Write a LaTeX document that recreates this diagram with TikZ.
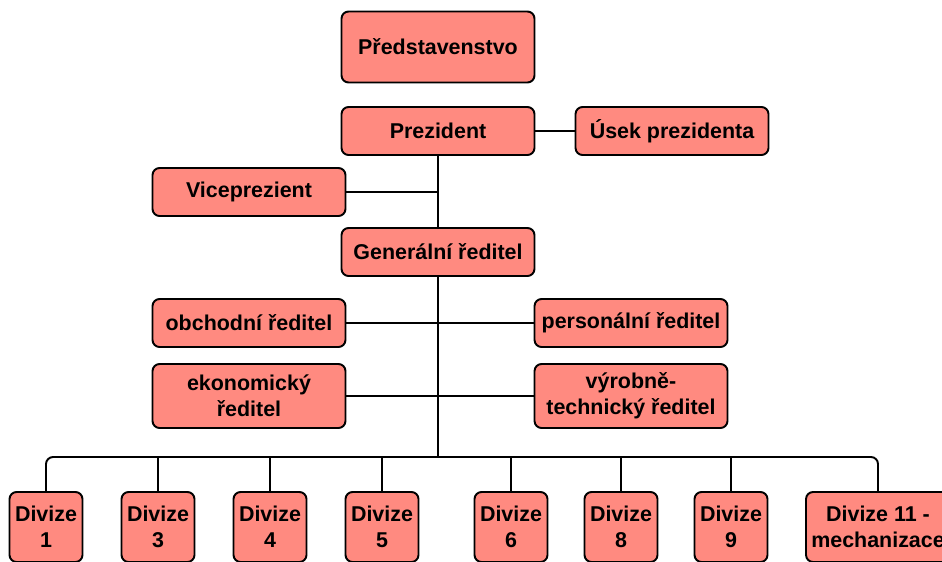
\documentclass[tikz,border=0pt]{standalone}
\usepackage{fontspec}
\setmainfont{Liberation Sans}
\definecolor{salmon}{RGB}{255,138,128}
\tikzset{
	unit/.style={draw, fill=salmon, rounded corners=4pt, line width=1.1pt,
		font=\bfseries\fontsize{12.2}{14.8}\selectfont, align=center,
		minimum width=3.86cm, minimum height=0.96cm, inner sep=1pt},
	division/.style={unit, minimum width=1.46cm, minimum height=1.4cm},
	link/.style={line width=1.1pt}
}
\begin{document}
\begin{tikzpicture}[x=0.02cm, y=-0.02cm]
	\useasboundingbox (0,0) rectangle (942,561);
	\clip (0,0) rectangle (942,561);
	% top management
	\node[unit, minimum height=1.42cm] (board) at (438,47) {Představenstvo};
	\node[unit] (pres) at (438,131) {Prezident};
	\node[unit] (office) at (672,131) {Úsek prezidenta};
	\node[unit] (vice) at (249,192) {Viceprezient};
	\node[unit] (ceo) at (438,252) {Generální ředitel};
	% directors
	\node[unit] (sales) at (249,323) {obchodní ředitel};
	\node[unit] (hr) at (631,323) {personální ředitel};
	\node[unit, minimum height=1.28cm] (econ) at (249,396) {ekonomický\\ředitel};
	\node[unit, minimum height=1.28cm] (tech) at (631,396) {výrobně-\\technický ředitel};
	% divisions
	\foreach \name/\x/\num in {d1/46/1, d3/158/3, d4/270/4, d5/382/5, d6/511/6, d8/621/8, d9/731/9}
	{
		\node[division] (\name) at (\x,527) {Divize\\\num};
	}
	\node[division, minimum width=2.88cm] (d11) at (878,527) {Divize 11 -\\mechanizace};
	\coordinate (bus) at (438,457);
	% connectors
	\draw[link] (pres) -- (office);
	\draw[link] (pres) -- (ceo);
	\draw[link] (vice) -- (vice -| pres);
	\draw[link] (ceo) -- (bus);
	\draw[link] (sales) -- (hr);
	\draw[link] (econ) -- (tech);
	\draw[link, rounded corners=4pt] (d1.north) |- (bus) -| (d11.north);
	\foreach \name in {d3,d4,d5,d6,d8,d9}
	{
		\draw[link] (\name.north) -- (\name.north |- bus);
	}
\end{tikzpicture}
\end{document}
